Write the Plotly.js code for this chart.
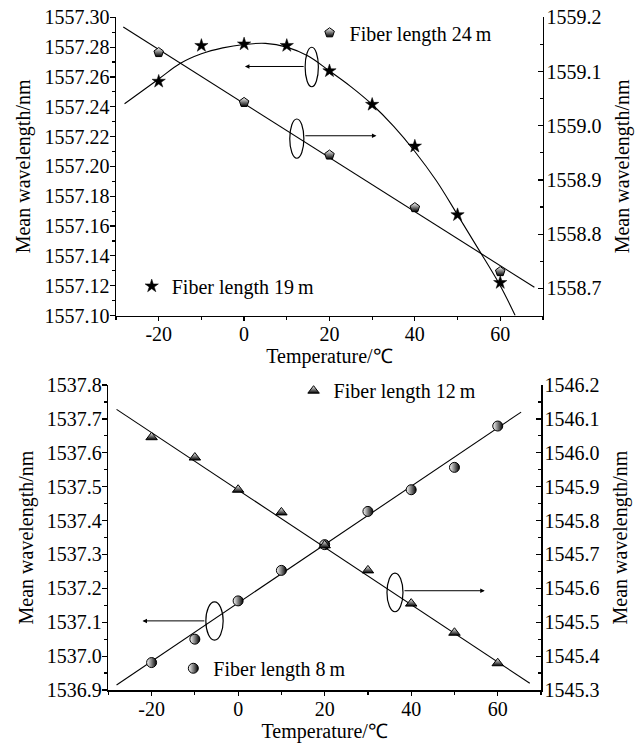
<!DOCTYPE html>
<html><head><meta charset="utf-8">
<script src="https://cdn.plot.ly/plotly-3.0.1.min.js"></script>
<style>html,body{margin:0;padding:0;background:#fff}#chart{width:641px;height:745px}</style>
</head><body><div id="chart"></div>
<script>
// ---- Top panel data ----
const tempTop = [-20, -10, 0, 10, 20, 30, 40, 50, 60];
const wl19 = [1557.257, 1557.281, 1557.282, 1557.281, 1557.264, 1557.2415, 1557.2135, 1557.1675, 1557.122];
const fit19T = [-28, -20, -15, -10, -5, 0, 5, 10, 15, 20, 25, 30, 35, 40, 45, 50, 55, 60, 63.5];
const fit19V = [1557.242, 1557.2586, 1557.269, 1557.2755, 1557.2795, 1557.2818, 1557.2825, 1557.280, 1557.274, 1557.264, 1557.2535, 1557.2415, 1557.227, 1557.210, 1557.1905, 1557.1675, 1557.144, 1557.120, 1557.100];
const temp24 = [-20, 0, 20, 40, 60];
const wl24 = [1559.135, 1559.043, 1558.946, 1558.849, 1558.731];
const fit24T = [-28.3, 68];
const fit24V = [1559.182, 1558.702];
// ---- Bottom panel data ----
const tempBot = [-20, -10, 0, 10, 20, 30, 40, 50, 60];
const wl8 = [1536.981, 1537.05, 1537.163, 1537.253, 1537.329, 1537.427, 1537.491, 1537.557, 1537.679];
const fit8T = [-28.1, 65.4];
const fit8V = [1536.915, 1537.72];
const wl12 = [1546.046, 1545.986, 1545.891, 1545.824, 1545.727, 1545.653, 1545.555, 1545.469, 1545.379];
const fit12T = [-28.1, 67.4];
const fit12V = [1546.128, 1545.32];
// ---- Tick labels / text ----
const xTickVals = [-20, 0, 20, 40, 60];
const xTickText = ['-20', '0', '20', '40', '60'];
const yTitle = 'Mean wavelength/nm';
const xTitle = 'Temperature/\u2103';
const names = ['Fiber length 24\u2009m', 'Fiber length 19\u2009m', 'Fiber length 12\u2009m', 'Fiber length 8\u2009m'];

const FONT = 'Liberation Serif, Times New Roman, serif';
const lineStyle = {color: '#000', width: 1.1};

const traces = [
  {x: fit19T, y: fit19V, xaxis: 'x', yaxis: 'y', mode: 'lines', line: Object.assign({shape: 'spline'}, lineStyle), showlegend: false, hoverinfo: 'skip'},
  {x: tempTop, y: wl19, xaxis: 'x', yaxis: 'y', mode: 'markers', name: names[1], legend: 'legend2',
   marker: {symbol: 'star', size: 10, color: '#000', line: {color: '#000', width: 0.5}}},
  {x: fit24T, y: fit24V, xaxis: 'x', yaxis: 'y2', mode: 'lines', line: lineStyle, showlegend: false, hoverinfo: 'skip'},
  {x: temp24, y: wl24, xaxis: 'x', yaxis: 'y2', mode: 'markers', name: names[0], legend: 'legend',
   marker: {symbol: 'pentagon', size: 10, color: '#fff', gradient: {type: 'vertical', color: '#000'}, line: {color: '#000', width: 1}}},
  {x: fit8T, y: fit8V, xaxis: 'x2', yaxis: 'y3', mode: 'lines', line: lineStyle, showlegend: false, hoverinfo: 'skip'},
  {x: tempBot, y: wl8, xaxis: 'x2', yaxis: 'y3', mode: 'markers', name: names[3], legend: 'legend4',
   marker: {symbol: 'circle', size: 10, color: '#fff', gradient: {type: 'horizontal', color: '#000'}, line: {color: '#000', width: 1}}},
  {x: fit12T, y: fit12V, xaxis: 'x2', yaxis: 'y4', mode: 'lines', line: lineStyle, showlegend: false, hoverinfo: 'skip'},
  {x: tempBot, y: wl12, xaxis: 'x2', yaxis: 'y4', mode: 'markers', name: names[2], legend: 'legend3',
   marker: {symbol: 'triangle-up', size: 10, color: '#fff', gradient: {type: 'vertical', color: '#000'}, line: {color: '#000', width: 1}}}
];

const tickFont = {family: FONT, size: 20, color: '#000'};
const titleFont = {family: FONT, size: 20, color: '#000'};
function xax(domain, anchor) {
  return {domain: domain, anchor: anchor, range: [-30, 70], tickmode: 'array', tickvals: xTickVals, ticktext: xTickText,
    ticks: 'outside', ticklen: 4, ticklabelstandoff: -4,
    tickwidth: 1.2, tickcolor: '#000', showline: true, linecolor: '#000', linewidth: 1.5, showgrid: false, zeroline: false,
    minor: {dtick: 10, tick0: 0, ticks: 'outside', ticklen: 3, tickcolor: '#000'}, tickfont: tickFont,
    title: {text: xTitle, font: titleFont, standoff: 0}, automargin: false};
}
function yax(domain, anchor, range, tick0, dtick, minor, fmt, side, tickdir, standoff, overlay) {
  const a = {anchor: anchor, range: range, dtick: dtick, tick0: tick0, tickformat: fmt, side: side,
    ticks: tickdir, ticklen: 5, ticklabelstandoff: side === 'left' ? -4 : -2, tickwidth: 1.2, tickcolor: '#000', showline: true, linecolor: '#000', linewidth: 1.5,
    showgrid: false, zeroline: false, minor: {dtick: minor, tick0: tick0, ticks: tickdir, ticklen: 3, tickcolor: '#000'},
    tickfont: tickFont, title: {text: yTitle, font: titleFont, standoff: standoff}, automargin: false};
  if (overlay) a.overlaying = overlay; else a.domain = domain;
  return a;
}
const legendBase = {bgcolor: 'rgba(0,0,0,0)', font: {family: FONT, size: 20, color: '#000'}, itemwidth: 30,
  xanchor: 'left', yanchor: 'middle', borderwidth: 0, tracegroupgap: 0};

const layout = {
  width: 641, height: 745, paper_bgcolor: '#fff', plot_bgcolor: 'rgba(0,0,0,0)',
  margin: {l: 0, r: 0, t: 0, b: 0},
  font: {family: FONT, color: '#000'},
  xaxis: xax([0.181, 0.847], 'y'),
  yaxis: yax([0.5765, 0.9768], 'x', [1557.10, 1557.30], 1557.10, 0.02, 0.01, '.2f', 'left', 'outside', 8),
  yaxis2: yax(null, 'x', [1558.65, 1559.2], 1558.7, 0.1, 0.05, '.1f', 'right', 'inside', 14, 'y'),
  xaxis2: xax([0.169, 0.844], 'y3'),
  yaxis3: yax([0.0738, 0.4832], 'x2', [1536.9, 1537.8], 1536.9, 0.1, 0.05, '.1f', 'left', 'outside', 8),
  yaxis4: yax(null, 'x2', [1545.3, 1546.2], 1545.3, 0.1, 0.05, '.1f', 'right', 'inside', 14, 'y3'),
  legend: Object.assign({x: 0.483, y: 0.956}, legendBase),
  legend2: Object.assign({x: 0.2055, y: 0.616}, legendBase),
  legend3: Object.assign({x: 0.458, y: 0.4756}, legendBase),
  legend4: Object.assign({x: 0.2704, y: 0.103}, legendBase),
  shapes: [
    {type: 'circle', xref: 'x', yref: 'y', x0: 14.3, x1: 17.4, y0: 1557.2534, y1: 1557.2799, line: {color: '#000', width: 1.2}},
    {type: 'circle', xref: 'x', yref: 'y2', x0: 10.7, x1: 14.0, y0: 1558.940, y1: 1559.0124, line: {color: '#000', width: 1.2}},
    {type: 'circle', xref: 'x2', yref: 'y3', x0: -7.46, x1: -3.46, y0: 1537.047, y1: 1537.160, line: {color: '#000', width: 1.2}},
    {type: 'circle', xref: 'x2', yref: 'y4', x0: 34.4, x1: 38.1, y0: 1545.531, y1: 1545.645, line: {color: '#000', width: 1.2}}
  ],
  annotations: [
    {xref: 'x', yref: 'y', axref: 'x', ayref: 'y', x: 0.2, y: 1557.267, ax: 14.3, ay: 1557.267, text: '', showarrow: true, arrowhead: 2, arrowsize: 0.9, arrowwidth: 1, arrowcolor: '#000'},
    {xref: 'x', yref: 'y2', axref: 'x', ayref: 'y2', x: 31, y: 1558.9815, ax: 14.0, ay: 1558.9815, text: '', showarrow: true, arrowhead: 2, arrowsize: 0.9, arrowwidth: 1, arrowcolor: '#000'},
    {xref: 'x2', yref: 'y3', axref: 'x2', ayref: 'y3', x: -22.1, y: 1537.104, ax: -7.46, ay: 1537.104, text: '', showarrow: true, arrowhead: 2, arrowsize: 0.9, arrowwidth: 1, arrowcolor: '#000'},
    {xref: 'x2', yref: 'y4', axref: 'x2', ayref: 'y4', x: 57, y: 1545.593, ax: 38.1, ay: 1545.593, text: '', showarrow: true, arrowhead: 2, arrowsize: 0.9, arrowwidth: 1, arrowcolor: '#000'}
  ]
};

Plotly.newPlot('chart', traces, layout, {displayModeBar: false, staticPlot: true});
</script>
</body></html>
